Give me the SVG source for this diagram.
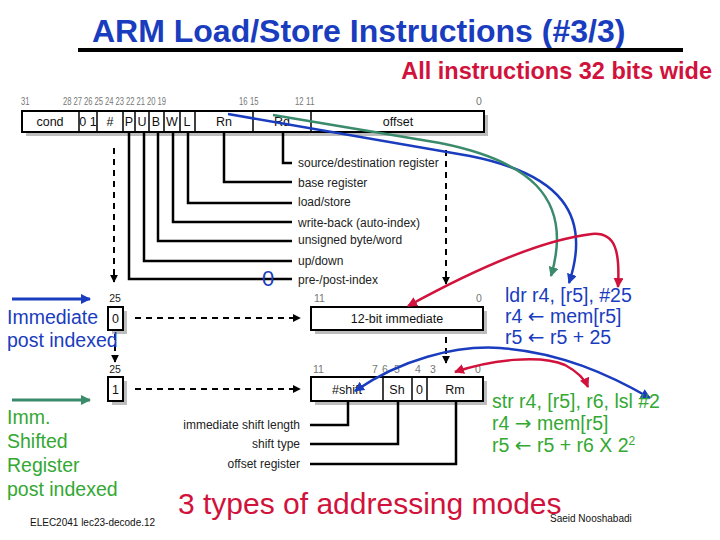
<svg xmlns="http://www.w3.org/2000/svg" width="720" height="540" viewBox="0 0 720 540">
<style>
text{font-family:"Liberation Sans","DejaVu Sans",Arial,sans-serif}
.box{fill:#fff;stroke:#000;stroke-width:2}
.div{stroke:#000;stroke-width:1.5}
.sh{fill:#bdbdbd}
.bit{font-size:10.5px;fill:#777}
.bitd{font-size:10.5px;fill:#222;text-anchor:middle}
.fld{font-size:12.5px;fill:#111;text-anchor:middle}
.lbl{font-size:12px;fill:#222}
.ln{fill:none;stroke:#000;stroke-width:2.5}
.dash{fill:none;stroke:#000;stroke-width:2;stroke-dasharray:6 5}
.blue{fill:#1a3cbe}
.green{fill:#33a833}
.red{fill:#d0123c}
.big{font-size:19.5px}
.arw{font-family:"DejaVu Sans",sans-serif;font-size:20px}
</style>
<defs>
<marker id="mk" viewBox="0 0 10 10" refX="9" refY="5" markerWidth="8" markerHeight="8" markerUnits="userSpaceOnUse" orient="auto"><path d="M0,0L10,5L0,10z" fill="#000"/></marker>
<marker id="mb" viewBox="0 0 10 10" refX="9" refY="5" markerWidth="10" markerHeight="10" markerUnits="userSpaceOnUse" orient="auto-start-reverse"><path d="M0,0L10,5L0,10z" fill="#1a3cbe"/></marker>
<marker id="mg" viewBox="0 0 10 10" refX="9" refY="5" markerWidth="10" markerHeight="10" markerUnits="userSpaceOnUse" orient="auto-start-reverse"><path d="M0,0L10,5L0,10z" fill="#3a8a6c"/></marker>
<marker id="mr" viewBox="0 0 10 10" refX="9" refY="5" markerWidth="10" markerHeight="10" markerUnits="userSpaceOnUse" orient="auto-start-reverse"><path d="M0,0L10,5L0,10z" fill="#d0123c"/></marker>
</defs>
<rect width="720" height="540" fill="#fff"/>

<g id="title">
<text x="92" y="42" font-size="32" font-weight="bold" class="blue">ARM Load/Store Instructions (#3/3)</text>
<line x1="78" y1="50" x2="683" y2="50" stroke="#000" stroke-width="4"/>
<text x="712" y="79" font-size="23.5" font-weight="bold" class="red" text-anchor="end">All instructions 32 bits wide</text>
</g>

<g id="instr-format">
<rect class="sh" x="26" y="115" width="462" height="21"/>
<rect class="box" x="22" y="111" width="462" height="21"/>
<g class="div">
<line x1="79" y1="111" x2="79" y2="132"/><line x1="97" y1="111" x2="97" y2="132"/>
<line x1="123" y1="111" x2="123" y2="132"/><line x1="135" y1="111" x2="135" y2="132"/>
<line x1="149" y1="111" x2="149" y2="132"/><line x1="164" y1="111" x2="164" y2="132"/>
<line x1="180" y1="111" x2="180" y2="132"/><line x1="195" y1="111" x2="195" y2="132"/>
<line x1="253" y1="111" x2="253" y2="132"/><line x1="311" y1="111" x2="311" y2="132"/>
</g>
<text class="fld" x="50" y="126">cond</text>
<text class="fld" x="88" y="126">0 1</text>
<text class="fld" x="110" y="126">#</text>
<text class="fld" x="129" y="126">P</text>
<text class="fld" x="142" y="126">U</text>
<text class="fld" x="156" y="126">B</text>
<text class="fld" x="172" y="126">W</text>
<text class="fld" x="187" y="126">L</text>
<text class="fld" x="224" y="126">Rn</text>
<text class="fld" x="282" y="126">Rd</text>
<text class="fld" x="398" y="126">offset</text>
<g class="bit">
<text x="21" y="105" textLength="8.5" lengthAdjust="spacingAndGlyphs">31</text>
<text x="63" y="105" textLength="8.5" lengthAdjust="spacingAndGlyphs">28</text>
<text x="73.5" y="105" textLength="8.5" lengthAdjust="spacingAndGlyphs">27</text>
<text x="84" y="105" textLength="8.5" lengthAdjust="spacingAndGlyphs">26</text>
<text x="94.5" y="105" textLength="8.5" lengthAdjust="spacingAndGlyphs">25</text>
<text x="105" y="105" textLength="8.5" lengthAdjust="spacingAndGlyphs">24</text>
<text x="115.5" y="105" textLength="8.5" lengthAdjust="spacingAndGlyphs">23</text>
<text x="126" y="105" textLength="8.5" lengthAdjust="spacingAndGlyphs">22</text>
<text x="136.5" y="105" textLength="8.5" lengthAdjust="spacingAndGlyphs">21</text>
<text x="147" y="105" textLength="8.5" lengthAdjust="spacingAndGlyphs">20</text>
<text x="157.5" y="105" textLength="8.5" lengthAdjust="spacingAndGlyphs">19</text>
<text x="239" y="105" textLength="8.5" lengthAdjust="spacingAndGlyphs">16</text>
<text x="250" y="105" textLength="8.5" lengthAdjust="spacingAndGlyphs">15</text>
<text x="295" y="105" textLength="8.5" lengthAdjust="spacingAndGlyphs">12</text>
<text x="306" y="105" textLength="8.5" lengthAdjust="spacingAndGlyphs">11</text>
<text x="476" y="105">0</text>
</g>
</g>

<g id="field-labels">
<path class="ln" d="M129,132V279H292"/>
<path class="ln" d="M144,132V261H292"/>
<path class="ln" d="M158,132V241H292"/>
<path class="ln" d="M173,132V222H292"/>
<path class="ln" d="M188,132V203H292"/>
<path class="ln" d="M224,132V182H292"/>
<path class="ln" d="M283,132V163H292" stroke-width="3.5"/>
<text class="lbl" x="298" y="167">source/destination register</text>
<text class="lbl" x="298" y="187">base register</text>
<text class="lbl" x="298" y="206">load/store</text>
<text class="lbl" x="298" y="227">write-back (auto-index)</text>
<text class="lbl" x="298" y="244">unsigned byte/word</text>
<text class="lbl" x="298" y="265">up/down</text>
<text class="lbl" x="298" y="284">pre-/post-index</text>
<text x="268" y="286" font-size="22" class="blue" text-anchor="middle">0</text>
</g>

<g id="immediate-format">
<text class="bitd" x="115" y="302">25</text>
<rect class="sh" x="112" y="311" width="15" height="23"/>
<rect class="box" x="108" y="307" width="15" height="23"/>
<text class="fld" x="115.5" y="323">0</text>
<text class="bit" x="314" y="302">11</text>
<text class="bit" x="476" y="302">0</text>
<rect class="sh" x="315" y="311" width="172" height="23"/>
<rect class="box" x="311" y="307" width="172" height="23"/>
<text class="fld" x="397" y="323">12-bit immediate</text>
</g>

<g id="shifted-format">
<text class="bitd" x="115" y="373">25</text>
<rect class="sh" x="112" y="381" width="15" height="24"/>
<rect class="box" x="108" y="377" width="15" height="24"/>
<text class="fld" x="115.5" y="394">1</text>
<g class="bit">
<text x="313" y="373">11</text><text x="372" y="373">7</text><text x="382" y="373">6</text>
<text x="394" y="373">5</text><text x="415" y="373">4</text><text x="430" y="373">3</text>
<text x="475" y="373">0</text>
</g>
<rect class="sh" x="315" y="381" width="172" height="24"/>
<rect class="box" x="311" y="377" width="172" height="24"/>
<g class="div">
<line x1="383" y1="377" x2="383" y2="401"/><line x1="412" y1="377" x2="412" y2="401"/>
<line x1="427" y1="377" x2="427" y2="401"/>
</g>
<text class="fld" x="347" y="394">#shift</text>
<text class="fld" x="397" y="394">Sh</text>
<text class="fld" x="419.5" y="394">0</text>
<text class="fld" x="455" y="394">Rm</text>
<path class="ln" d="M310,425H348V401"/>
<path class="ln" d="M310,444H398V401"/>
<path class="ln" d="M310,464H456V401" stroke-width="1.3"/>
<text class="lbl" x="300" y="429" text-anchor="end">immediate shift length</text>
<text class="lbl" x="300" y="448" text-anchor="end">shift type</text>
<text class="lbl" x="300" y="468" text-anchor="end">offset register</text>
</g>

<g id="connectors">
<path class="dash" d="M114,148V282" marker-end="url(#mk)"/>
<path class="dash" d="M446,150V284" marker-end="url(#mk)"/>
<path class="dash" d="M115,334V362" marker-end="url(#mk)"/>
<path class="dash" d="M446,337V363" marker-end="url(#mk)"/>
<path class="dash" d="M135,318H300" marker-end="url(#mk)"/>
<path class="dash" d="M135,389H300" marker-end="url(#mk)"/>
<path d="M12,299H90" stroke="#1a3cbe" stroke-width="3" fill="none" marker-end="url(#mb)"/>
<path d="M12,400H90" stroke="#3a8a6c" stroke-width="3" fill="none" marker-end="url(#mg)"/>
<path d="M228,114L470,156C560,174 592,214 569,283" stroke="#1a3cbe" stroke-width="2.5" fill="none" marker-end="url(#mb)"/>
<path d="M273,115L440,143C525,160 575,195 551,276" stroke="#3a8a6c" stroke-width="2.5" fill="none" marker-end="url(#mg)"/>
<path d="M408,306C470,272 540,240 592,234C616,232 620,252 618,287" stroke="#d0123c" stroke-width="2.5" fill="none" marker-start="url(#mr)" marker-end="url(#mr)"/>
<path d="M355,391C400,360 455,345 500,348C560,352 610,375 650,398" stroke="#1a3cbe" stroke-width="2.5" fill="none" marker-start="url(#mb)" marker-end="url(#mb)"/>
<path d="M455,372C490,360 540,354 565,365C578,372 585,380 588,387" stroke="#d0123c" stroke-width="2.5" fill="none" marker-start="url(#mr)" marker-end="url(#mr)"/>
</g>

<g id="mode-labels">
<text class="blue big" x="7" y="324">Immediate</text>
<text class="blue big" x="7" y="347">post indexed</text>
<text class="green big" x="7" y="424">Imm.</text>
<text class="green big" x="7" y="448">Shifted</text>
<text class="green big" x="7" y="472">Register</text>
<text class="green big" x="7" y="496">post indexed</text>
</g>

<g id="ldr-example">
<text class="blue big" x="505" y="302">ldr r4, [r5], #25</text>
<text class="blue big" x="505" y="323">r4 <tspan class="arw">←</tspan> mem[r5]</text>
<text class="blue big" x="505" y="344">r5 <tspan class="arw">←</tspan> r5 + 25</text>
</g>

<g id="str-example">
<text class="green big" x="492" y="408">str r4, [r5], r6, lsl #2</text>
<text class="green big" x="492" y="430">r4 <tspan class="arw">→</tspan> mem[r5]</text>
<text class="green big" x="492" y="452">r5 <tspan class="arw">←</tspan> r5 + r6 X 2<tspan font-size="12" dy="-7">2</tspan></text>
</g>

<g id="footer">
<text x="178" y="514" font-size="30" class="red">3 types of addressing modes</text>
<text x="30" y="526" font-size="10" fill="#111">ELEC2041  lec23-decode.12</text>
<text x="550" y="522" font-size="10" fill="#111">Saeid Nooshabadi</text>
</g>
</svg>
